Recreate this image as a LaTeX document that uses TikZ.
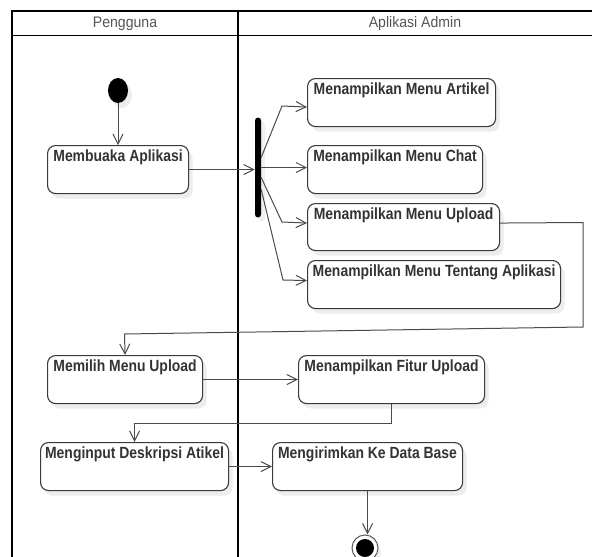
\documentclass[tikz,border=0pt]{standalone}
\usepackage{fontspec}
\usetikzlibrary{arrows.meta,shapes.geometric,shadows}
\newfontfamily\actfont{Liberation Sans}[FakeStretch=0.86]
\newfontfamily\lanefont{Liberation Sans}[FakeStretch=0.92]
\definecolor{ink}{HTML}{333333}
\definecolor{edge}{HTML}{3A3A3A}
\definecolor{wire}{HTML}{4A4A4A}
\definecolor{lanetext}{HTML}{555555}
\begin{document}
\begin{tikzpicture}[x=1pt,y=-1pt,
  lane/.style={line width=1.6pt, black},
  lanelabel/.style={font=\lanefont\fontsize{15.3}{17}\selectfont, text=lanetext, inner sep=0pt},
  act/.style={draw=edge, line width=1.1pt, rounded corners=8pt, fill=white,
    anchor=north west, inner sep=0pt, minimum height=48pt,
    text height=16pt, text depth=32pt, align=center, text=ink,
    font=\actfont\bfseries\fontsize{16.2}{18}\selectfont,
    general shadow={fill=black!7, shadow xshift=4pt, shadow yshift=-5pt}},
  flow/.style={draw=wire, line width=1pt, -{Straight Barb[length=10pt,width=10pt,line width=1pt]}},
  wireline/.style={draw=wire, line width=1pt}]
\useasboundingbox (0,0) rectangle (592,557);

% swimlane frame
\draw[lane] (12,557) -- (12,11) -- (592,11);
\draw[lane] (12,35.5) -- (592,35.5);
\draw[lane] (238,11) -- (238,557);
\node[lanelabel] (pengguna) at (125,23.5) {Pengguna};
\node[lanelabel] (admin) at (415,23.5) {Aplikasi Admin};

% start and fork
\node[ellipse, fill=black, minimum width=20pt, minimum height=25pt, inner sep=0pt,
  general shadow={fill=black!7, shadow xshift=4pt, shadow yshift=-5pt}] (start) at (118,90.5) {};
\node[fill=black, rounded corners=3pt, minimum width=6pt, minimum height=100pt, inner sep=0pt,
  general shadow={fill=black!6, shadow xshift=4pt, shadow yshift=-4pt}] (fork) at (258,167.5) {};

% actions
\node[act, minimum width=141pt] (membuka) at (47,145) {Membuaka Aplikasi};
\node[act, minimum width=188pt] (artikel) at (307,78) {Menampilkan Menu Artikel};
\node[act, minimum width=175pt] (chat) at (307,145) {Menampilkan Menu Chat};
\node[act, minimum width=192pt, minimum height=47pt, text depth=31pt] (upload) at (307,203) {Menampilkan Menu Upload};
\node[act, minimum width=253pt] (tentang) at (307,260) {Menampilkan Menu Tentang Aplikasi};
\node[act, minimum width=155pt] (memilih) at (47,355) {Memilih Menu Upload};
\node[act, minimum width=186pt] (fitur) at (298,355) {Menampilkan Fitur Upload};
\node[act, minimum width=188pt] (menginput) at (40,442) {Menginput Deskripsi Atikel};
\node[act, minimum width=190pt] (mengirim) at (272,442) {Mengirimkan Ke Data Base};

% end node
\node[circle, draw=black!65, line width=1pt, fill=white, minimum size=26pt, inner sep=0pt,
  general shadow={fill=black!7, shadow xshift=3pt, shadow yshift=-4pt}] (finish) at (365,548) {};
\node[circle, fill=black, minimum size=18pt, inner sep=0pt] (finishdot) at (finish.center) {};

% flows
\draw[flow] (start.south) -- (start.south |- membuka.north);
\draw[flow] (membuka.east) -- (membuka.east -| fork.west);
\draw[flow] ([yshift=10pt]fork.east) -- (282,106) -- ([yshift=-4.5pt]artikel.west);
\draw[flow] (fork.east) -- (fork.east -| chat.west);
\draw[flow] ([yshift=-10pt]fork.east) -- (282,222) -- ([yshift=4pt]upload.west);
\draw[flow] ([yshift=-22pt]fork.east) -- (283,280) -- ([yshift=4pt]tentang.west);
\draw[flow] ([yshift=4pt]upload.east) -- (583,222.5) -- (583,327) -- (124.5,334) -- (memilih.north);
\draw[flow] (memilih.east) -- (fitur.west);
\draw[flow] (fitur.south) -- ++(0,19) -| (menginput.north);
\draw[flow] (menginput.east) -- (mengirim.west);
\draw[flow] (mengirim.south) -- (mengirim.south |- finish.north);
\end{tikzpicture}
\end{document}
